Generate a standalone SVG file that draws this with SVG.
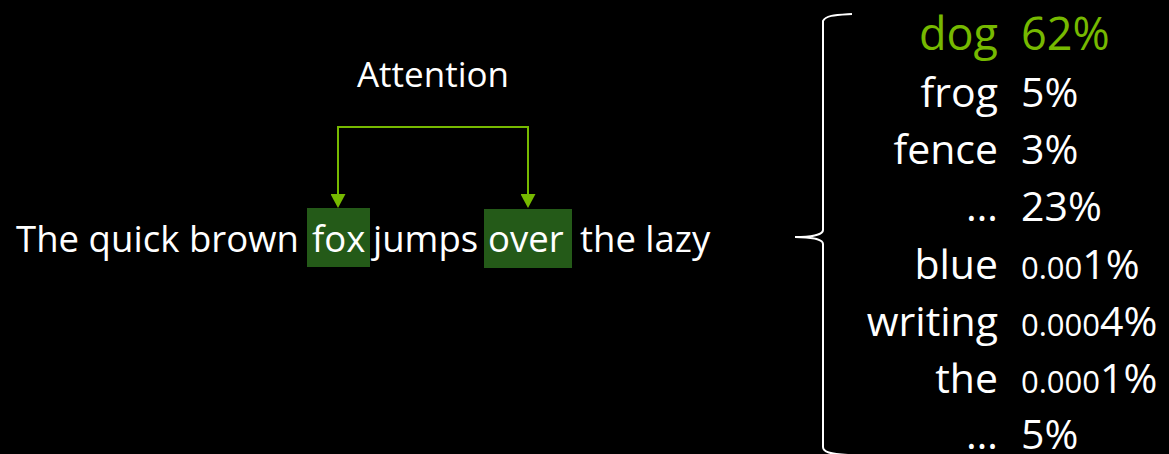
<svg xmlns="http://www.w3.org/2000/svg" width="1169" height="454" viewBox="0 0 1169 454">
<defs>
<style>
text{font-family:"Open Sans","Liberation Sans",sans-serif;fill:#ffffff}
.s{font-size:36.5px}
.l{font-size:41px}
.g{fill:#76b900}
.sm{font-size:31px}
.hl{fill:#245a18}
.conn{fill:none;stroke:#76b900;stroke-width:2}
</style>
<marker id="ah" viewBox="0 0 14 15" refX="0" refY="7.5" markerWidth="14" markerHeight="15" markerUnits="userSpaceOnUse" orient="auto-start-reverse">
<path d="M0,0 L14,7.5 L0,15 z" fill="#76b900"/>
</marker>
</defs>
<rect width="1169" height="454" fill="#000000"/>
<g id="attention-label"><text x="433" y="87" font-size="35" text-anchor="middle">Attention</text></g>
<g id="sentence">
<rect class="hl" x="307" y="208" width="63" height="59"/>
<rect class="hl" x="484" y="209" width="88" height="59"/>
<text class="s" x="16" y="252" textLength="283">The quick brown</text>
<text class="s" x="312" y="252">fox</text>
<text class="s" x="373" y="252">jumps</text>
<text class="s" x="488" y="252">over</text>
<text class="s" x="580" y="252">the lazy</text>
</g>
<g id="connectors">
<path class="conn" d="M338,194 V127 H528 V194" marker-start="url(#ah)" marker-end="url(#ah)"/>
</g>
<g id="brace">
<path d="M852,14 C836,15 826,15 823,21 V230 C823,235 810,237 795,237 C810,237 823,239 823,244 V447 C823,452 830,454 848,455" fill="none" stroke="#ffffff" stroke-width="2"/>
</g>
<g id="predictions">
<text class="g" x="998" y="50" font-size="45" text-anchor="end">dog</text>
<text class="g" x="1021" y="50" font-size="45">62%</text>
<text class="l" x="998" y="107" text-anchor="end">frog</text>
<text class="l" x="1021" y="107">5%</text>
<text class="l" x="998" y="164" text-anchor="end">fence</text>
<text class="l" x="1021" y="164">3%</text>
<text class="l" x="998" y="221" text-anchor="end">…</text>
<text class="l" x="1021" y="221">23%</text>
<text class="l" x="998" y="279" text-anchor="end">blue</text>
<text class="l" x="1021" y="279"><tspan class="sm">0.00</tspan>1%</text>
<text class="l" x="998" y="336" text-anchor="end">writing</text>
<text class="l" x="1021" y="336"><tspan class="sm">0.000</tspan>4%</text>
<text class="l" x="998" y="393" text-anchor="end">the</text>
<text class="l" x="1021" y="393"><tspan class="sm">0.000</tspan>1%</text>
<text class="l" x="998" y="449" text-anchor="end">…</text>
<text class="l" x="1021" y="449">5%</text>
</g>
</svg>
